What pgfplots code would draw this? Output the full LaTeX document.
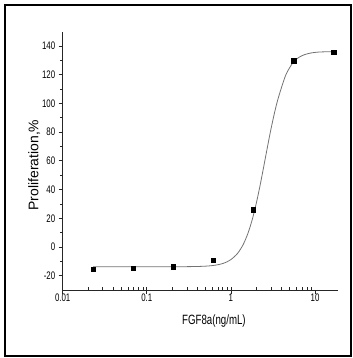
\documentclass[border=0pt]{standalone}
\usepackage{pgfplots}
\pgfplotsset{compat=1.18}
\usepackage{fontspec}
\setmainfont{Liberation Sans}[FakeStretch=0.72]
\newfontfamily\plainsans{Liberation Sans}
\begin{document}
\begin{tikzpicture}
\path[use as bounding box] (-62.7bp,-68bp) rectangle (290.3bp,290bp);
\draw[line width=1.5bp] (-57.7bp,-66bp) rectangle (288.3bp,285bp);
\begin{axis}[
  at={(0,0)}, anchor=south west,
  scale only axis, width=275bp, height=258.3bp,
  xmode=log, xmin=0.01, xmax=18.6,
  ymin=-30, ymax=150,
  axis x line=bottom, axis y line=left,
  axis line style={-, line width=0.9bp, black!85},
  xtick={0.01,0.1,1,10}, xticklabels={0.01,0.1,1,10},
  ytick={-20,0,20,40,60,80,100,120,140},
  minor y tick num=1,
  ytick align=outside, xtick align=inside,
  major tick length=4bp, minor tick length=2.8bp,
  major x tick style={yshift=-4bp},
  every tick/.style={black!85, line width=0.7bp},
  /pgf/number format/assume math mode=true,
  tick label style={font=\fontsize{11}{13}\selectfont},
  xlabel={FGF8a(ng/mL)},
  ylabel={\plainsans Proliferation,\%},
  xlabel style={font=\fontsize{13.5}{15}\selectfont, at={(axis description cs:0.55,-0.132)}, anchor=base},
  ylabel style={font=\fontsize{14}{16}\selectfont, at={(axis description cs:-0.104,0.484)}, anchor=center},
  clip=false,
]
\addplot[no marks, color=black!55, line width=0.8bp, smooth] coordinates {
(0.023,-13.8) (0.05,-13.8) (0.1,-13.8) (0.2,-13.78) (0.3,-13.73) (0.4,-13.61)
(0.5,-13.38) (0.6,-12.99) (0.7,-12.39) (0.8,-11.53) (0.9,-10.36) (1.0,-8.82)
(1.2,-4.48) (1.4,1.71) (1.6,9.78) (1.8,19.47) (2.0,30.29) (2.2,41.66)
(2.4,52.96) (2.6,63.74) (2.8,73.6) (3.0,82.44) (3.3,93.57) (3.6,102.43)
(4.0,111.28) (4.5,120.0) (5.0,125.0) (5.6,129.3) (6.5,132.3) (7.5,134.0)
(9,135.2) (11,135.8) (13.5,136.0) (17,136.1)
};
\addplot[only marks, mark=square*, mark size=2.2bp, black] coordinates {
(0.0229,-15.3) (0.0686,-14.9) (0.206,-13.9) (0.617,-9.3) (1.85,26.0) (5.56,129.8) (16.7,135.8)
};
\end{axis}
\end{tikzpicture}
\end{document}
